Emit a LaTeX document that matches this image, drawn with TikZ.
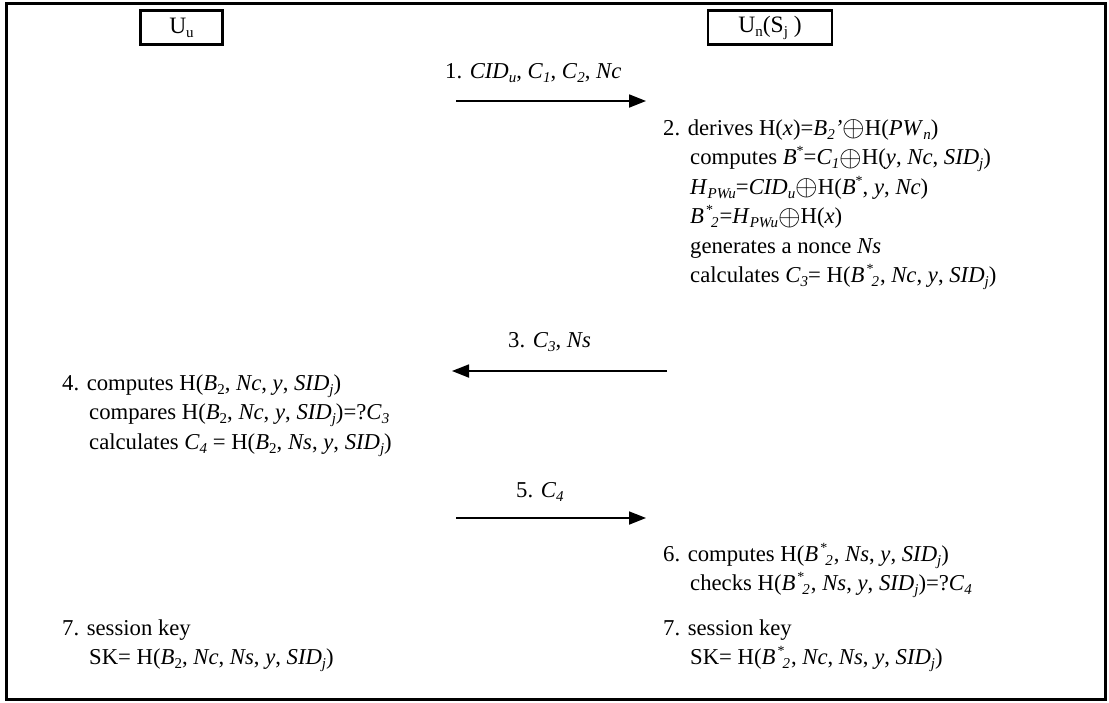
\documentclass[tikz,border=0pt]{standalone}
\usepackage{fontspec}
\setmainfont{Liberation Serif}
\usetikzlibrary{arrows.meta}
\newcommand\ti[1]{\textit{#1}}
\newcommand\sbs[1]{\raisebox{-4pt}{\fontsize{15}{15}\selectfont #1}}
\newcommand\sps[1]{\raisebox{9pt}{\fontsize{14}{14}\selectfont #1}}
\newcommand\Bst{\ti{B}\rlap{\sps{\hspace{2pt}*}}\sbs{\hspace{7pt}\ti{2}}\hspace{1pt}}
\newcommand\opl{\raisebox{-1.5pt}{\scalebox{1.4}{$\oplus$}}}
\begin{document}
\begin{tikzpicture}[x=1pt,y=-1pt,
  txt/.style={anchor=base west,inner sep=0pt,font=\fontsize{22.7}{29.5}\selectfont},
  hdr/.style={draw,line width=2.4pt,inner sep=0pt,minimum height=34pt,font=\fontsize{23.5}{29.5}\selectfont},
  msg/.style={line width=1.8pt,-{Triangle[length=17pt,width=13pt]}}]
\useasboundingbox (0,0) rectangle (1109,702);
\draw[line width=2.8pt] (6.5,3.5) rectangle (1105.5,699.5);
% headers
\node[hdr,minimum width=82pt] (hu) at (181.5,27.5) {U\sbs{u}};
\node[hdr,minimum width=124pt] (hn) at (770,27.5) {U\sbs{n}(S\sbs{j} )};
% message 1
\node[txt] (l1) at (445,78) {1. \ti{CID}\sbs{\ti{u}}, \ti{C}\sbs{\ti{1}}, \ti{C}\sbs{\ti{2}}, \ti{Nc}};
\coordinate (a1s) at (456,101);
\coordinate (a1e) at (646,101);
\draw[msg] (a1s) -- (a1e);
% step 2
\node[txt] (s2a) at (663,135) {2. derives H(\ti{x})=\ti{B}\sbs{\ti{2}}\ti{'}\opl H(\ti{PW}\sbs{\ti{n}})};
\node[txt] (s2b) at (690,164.5) {computes \ti{B}\sps{*}=\ti{C}\sbs{\ti{1}}\opl H(\ti{y}, \ti{Nc}, \ti{SID}\sbs{\ti{j}})};
\node[txt] (s2c) at (690,194) {\ti{H}\sbs{\ti{PWu}}=\ti{CID}\sbs{\ti{u}}\opl H(\ti{B}\sps{*}, \ti{y}, \ti{Nc})};
\node[txt] (s2d) at (690,223.5) {\Bst=\ti{H}\sbs{\ti{PWu}}\opl H(\ti{x})};
\node[txt] (s2e) at (690,253) {generates a nonce \ti{Ns}};
\node[txt] (s2f) at (690,282.5) {calculates \ti{C}\sbs{\ti{3}}= H(\Bst, \ti{Nc}, \ti{y}, \ti{SID}\sbs{\ti{j}})};
% message 3
\node[txt] (l3) at (508,347) {3. \ti{C}\sbs{\ti{3}}, \ti{Ns}};
\coordinate (a3s) at (667,371);
\coordinate (a3e) at (452,371);
\draw[msg] (a3s) -- (a3e);
% step 4
\node[txt] (s4a) at (62,390) {4. computes H(\ti{B}\sbs{2}, \ti{Nc}, \ti{y}, \ti{SID}\sbs{\ti{j}})};
\node[txt] (s4b) at (89,419.5) {compares H(\ti{B}\sbs{2}, \ti{Nc}, \ti{y}, \ti{SID}\sbs{\ti{j}})=?\ti{C}\sbs{\ti{3}}};
\node[txt] (s4c) at (89,449) {calculates \ti{C}\sbs{\ti{4}} = H(\ti{B}\sbs{2}, \ti{Ns}, \ti{y}, \ti{SID}\sbs{\ti{j}})};
% message 5
\node[txt] (l5) at (516,497) {5. \ti{C}\sbs{\ti{4}}};
\coordinate (a5s) at (456,518);
\coordinate (a5e) at (646,518);
\draw[msg] (a5s) -- (a5e);
% step 6
\node[txt] (s6a) at (663,561) {6. computes H(\Bst, \ti{Ns}, \ti{y}, \ti{SID}\sbs{\ti{j}})};
\node[txt] (s6b) at (690,590.5) {checks H(\Bst, \ti{Ns}, \ti{y}, \ti{SID}\sbs{\ti{j}})=?\ti{C}\sbs{\ti{4}}};
% step 7
\node[txt] (s7a) at (62,635) {7. session key};
\node[txt] (s7b) at (89,664.5) {SK= H(\ti{B}\sbs{2}, \ti{Nc}, \ti{Ns}, \ti{y}, \ti{SID}\sbs{\ti{j}})};
\node[txt] (s7c) at (663,635) {7. session key};
\node[txt] (s7d) at (690,664.5) {SK= H(\Bst, \ti{Nc}, \ti{Ns}, \ti{y}, \ti{SID}\sbs{\ti{j}})};
\end{tikzpicture}
\end{document}
